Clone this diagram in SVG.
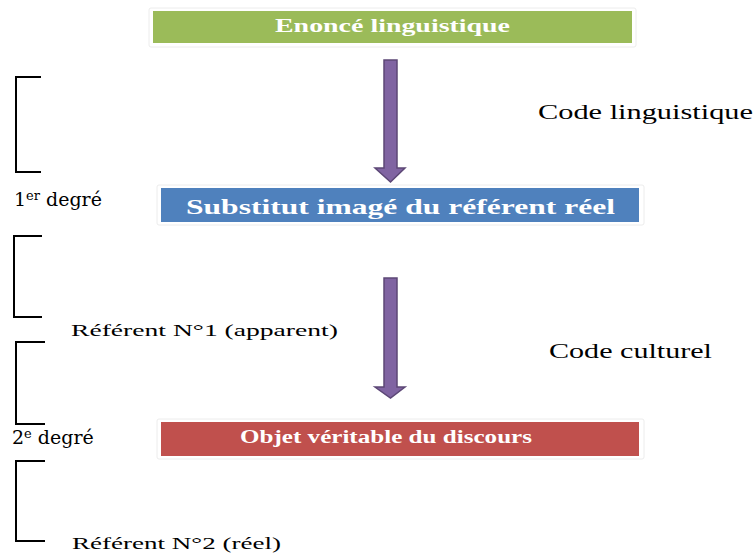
<svg xmlns="http://www.w3.org/2000/svg" width="755" height="553" viewBox="0 0 755 553">
<style>
.frame{fill:#fff;stroke:#ececec;stroke-width:1}
.btxt{font-family:"Liberation Serif","DejaVu Serif",serif;font-weight:bold;fill:#fff;text-anchor:start}
.lbl{font-family:"Liberation Serif","DejaVu Serif",serif;fill:#000}
.deg{font-family:"DejaVu Serif","Liberation Serif",serif;fill:#000;font-size:19px}
.br{fill:none;stroke:#000;stroke-width:2}
.arr{fill:#8064A2;stroke:#5C4776;stroke-width:1.5}
</style>
<rect width="755" height="553" fill="#fff"/>
<g id="node-enonce">
<rect class="frame" x="149" y="8" width="487" height="39" rx="2"/>
<rect x="153" y="11" width="479" height="32" fill="#9BBB59"/>
<text class="btxt" x="275" y="32" font-size="18" textLength="235" lengthAdjust="spacingAndGlyphs">Enoncé linguistique</text>
</g>
<g id="node-substitut">
<rect class="frame" x="157" y="185" width="487" height="40" rx="2"/>
<rect x="161" y="188" width="478" height="34" fill="#4F81BD"/>
<text class="btxt" x="186" y="214" font-size="21" textLength="429" lengthAdjust="spacingAndGlyphs">Substitut imagé du référent réel</text>
</g>
<g id="node-objet">
<rect class="frame" x="157" y="419" width="487" height="40" rx="2"/>
<rect x="161" y="422" width="478" height="34" fill="#C0504D"/>
<text class="btxt" x="240" y="443" font-size="18" textLength="292" lengthAdjust="spacingAndGlyphs">Objet véritable du discours</text>
</g>
<g id="connectors">
<path class="arr" d="M384,60 H397 V168 H405 L390.5,182 L375,168 H384 Z"/>
<path class="arr" d="M384,278 H397 V387 H405 L390.5,398 L375,387 H384 Z"/>
</g>
<g id="brackets">
<path class="br" d="M41,77 H16 V172 H41"/>
<path class="br" d="M42,236 H14 V317 H42"/>
<path class="br" d="M45,342 H16 V424 H45"/>
<path class="br" d="M45,461 H16 V541 H45"/>
</g>
<g id="labels">
<text class="lbl" x="538" y="119" font-size="20" textLength="215" lengthAdjust="spacingAndGlyphs">Code linguistique</text>
<text class="lbl" x="549" y="358" font-size="20" textLength="163" lengthAdjust="spacingAndGlyphs">Code culturel</text>
<text class="deg" x="14" y="206">1<tspan font-size="13" dy="-6">er</tspan><tspan dy="6"> degré</tspan></text>
<text class="lbl" x="71" y="336" font-size="17" textLength="267" lengthAdjust="spacingAndGlyphs">Référent N°1 (apparent)</text>
<text class="deg" x="12" y="444">2<tspan font-size="13" dy="-6">e</tspan><tspan dy="6"> degré</tspan></text>
<text class="lbl" x="72" y="549" font-size="17" textLength="209" lengthAdjust="spacingAndGlyphs">Référent N°2 (réel)</text>
</g>
</svg>
